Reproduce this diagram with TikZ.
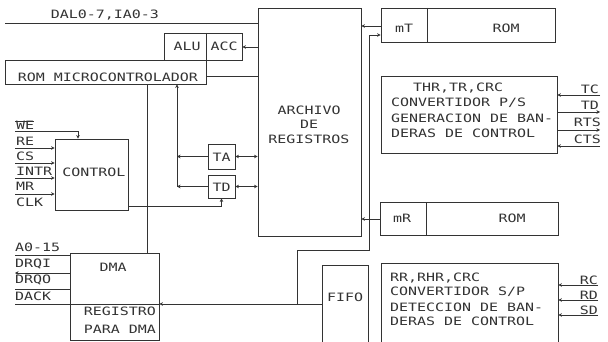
\documentclass[tikz,border=0pt]{standalone}
\usepackage{fontspec}
\newfontfamily\plotfont[FakeStretch=1.3]{DejaVu Sans Mono}
\usetikzlibrary{arrows.meta,fit}
\begin{document}
\begin{tikzpicture}[x=1pt,y=-1pt,
  ln/.style={line width=0.8pt, draw=black!80},
  box/.style={ln, rectangle, inner sep=0pt},
  lbl/.style={font=\plotfont\fontsize{11.5}{12}\selectfont, text=black!80, inner sep=0pt},
  arr/.style={ln, -{Stealth[length=3.5pt,width=3.5pt]}},
  arrb/.style={ln, {Stealth[length=3.5pt,width=3.5pt]}-{Stealth[length=3.5pt,width=3.5pt]}}]
\useasboundingbox (0,0) rectangle (608,342);
\clip (0,0) rectangle (608,342);
\fill[white] (0,0) rectangle (608,342);

% boxes
\node[box, fit={(258,8)(361,236)}] (arch) {};
\node[box, fit={(381,8)(555,42)}] (mT) {};
\draw[ln] (427,8) -- (427,42);
\node[box, fit={(381,76)(557,153)}] (thr) {};
\node[box, fit={(380,202)(558,235)}] (mR) {};
\draw[ln] (426,202) -- (426,235);
\node[box, fit={(381,263)(558,360)}] (rr) {};
\node[box, fit={(322,265)(368,360)}] (fifo) {};
\node[box, fit={(164,33)(242,60)}] (alu) {};
\node[box, fit={(5,60)(206,84)}] (rom) {};
\draw[ln] (206,33) -- (206,60);
\node[box, fit={(55,139)(128,210)}] (ctrl) {};
\node[box, fit={(208,144)(235,169)}] (ta) {};
\node[box, fit={(208,175)(235,198)}] (td) {};
\node[box, fit={(70,253)(159,340)}] (dma) {};

% texts in boxes
\node[lbl] (tdal) at (105,15) {DAL0-7,IA0-3};
\node[lbl] (talu) at (187,46) {ALU};
\node[lbl] (tacc) at (224,46) {ACC};
\node[lbl] (trom) at (108,77) {ROM MICROCONTROLADOR};
\node[lbl] (tar1) at (309,110) {ARCHIVO};
\node[lbl] (tar2) at (309,124) {DE};
\node[lbl] (tar3) at (309,139) {REGISTROS};
\node[lbl] (tmt) at (404,28) {mT};
\node[lbl] (trom1) at (506,28) {ROM};
\node[lbl] (tmr) at (402,218) {mR};
\node[lbl] (trom2) at (512,218) {ROM};
\node[lbl, anchor=west] (th1) at (413,88) {THR,TR,CRC};
\node[lbl, anchor=west] (th2) at (391,103) {CONVERTIDOR P/S};
\node[lbl, anchor=west] (th3) at (391,118) {GENERACION DE BAN-};
\node[lbl, anchor=west] (th4) at (391,133) {DERAS DE CONTROL};
\node[lbl, anchor=west] (tr1) at (390,278) {RR,RHR,CRC};
\node[lbl, anchor=west] (tr2) at (390,292) {CONVERTIDOR S/P};
\node[lbl, anchor=west] (tr3) at (390,307) {DETECCION DE BAN-};
\node[lbl, anchor=west] (tr4) at (390,321) {DERAS DE CONTROL};
\node[lbl] (tfifo) at (345,297) {FIFO};
\node[lbl] (tctrl) at (94,172) {CONTROL};
\node[lbl] (tta) at (221.5,157) {TA};
\node[lbl] (ttd) at (221.5,187) {TD};
\node[lbl] (tdma) at (113,267) {DMA};
\node[lbl] (treg1) at (120,311) {REGISTRO};
\node[lbl] (treg2) at (120,329) {PARA DMA};

% left signal labels
\node[lbl, anchor=west] (lwe) at (16,125) {WE};
\node[lbl, anchor=west] (lre) at (16,141) {RE};
\node[lbl, anchor=west] (lcs) at (16,156) {CS};
\node[lbl, anchor=west] (lintr) at (16,171) {INTR};
\node[lbl, anchor=west] (lmr) at (16,186) {MR};
\node[lbl, anchor=west] (lclk) at (16,202) {CLK};
\node[lbl, anchor=west] (la) at (15,247) {A0-15};
\node[lbl, anchor=west] (ldi) at (15,264) {DRQI};
\node[lbl, anchor=west] (ldo) at (15,280) {DRQO};
\node[lbl, anchor=west] (ldk) at (15,296) {DACK};
% right signal labels
\node[lbl, anchor=east] (ltc) at (599,89) {TC};
\node[lbl, anchor=east] (ltd) at (599,105) {TD};
\node[lbl, anchor=east] (lrts) at (601,122) {RTS};
\node[lbl, anchor=east] (lcts) at (601,139) {CTS};
\node[lbl, anchor=east] (lrc) at (598,280) {RC};
\node[lbl, anchor=east] (lrd) at (598,295) {RD};
\node[lbl, anchor=east] (lsd) at (598,310) {SD};

% connectors
\coordinate (dalS) at (5,23);
\draw[ln] (dalS) -- (dalS -| arch.west);
\draw[arr] (arch.west |- 0,47) -- (alu.east |- 0,47);
\draw[ln] (rom.east |- 0,76) -- (arch.west |- 0,76);
\draw[ln] (rom.south -| 147,0) -- (dma.north -| 147,0);
\coordinate (tj) at (177,187);
\draw[arr] (tj) -- (tj |- rom.south);
\draw[arr] (ta.west) -- (ta.west -| tj);
\draw[arr] (td.west) -- (td.west -| tj);
\draw[arrb] (ta.east) -- (ta.east -| arch.west);
\draw[arrb] (td.east) -- (td.east -| arch.west);
\draw[arr] (ctrl.east |- 0,206) -| (td.south);

% control inputs
\coordinate (weS) at (15,131);
\draw[arr] (weS) -| (ctrl.north -| 78,0);
\draw[ln] (15,121) -- (34,121);
\foreach \yy in {148,163,178,194} \draw[arr] (15,\yy) -- (ctrl.west |- 0,\yy);

% DMA signals
\draw[ln] (15,255) -- (dma.west |- 0,255);
\draw[arr] (dma.west |- 0,273) -- (15,273);
\draw[ln] (15,289) -- (dma.west |- 0,289);
\draw[ln] (15,304) -- (dma.east |- 0,304);
\draw[arr] (fifo.west |- 0,304) -- (dma.east |- 0,304);
\coordinate (busB) at (297,304);
\draw[arr] (busB) |- (369,250) |- (mT.west |- 0,35);
\draw[arr] (mT.west |- 0,26) -- (arch.east |- 0,26);
\draw[arr] (mR.west |- 0,219) -- (arch.east |- 0,219);

% THR signals
\draw[arr] (600,95) -- (thr.east |- 0,95);
\draw[arr] (thr.east |- 0,112) -- (600,112);
\draw[arr] (thr.east |- 0,130) -- (600,130);
\draw[arr] (600,146) -- (thr.east |- 0,146);
% RR signals
\foreach \yy in {285,300,315} \draw[arr] (598,\yy) -- (rr.east |- 0,\yy);
\end{tikzpicture}
\end{document}
